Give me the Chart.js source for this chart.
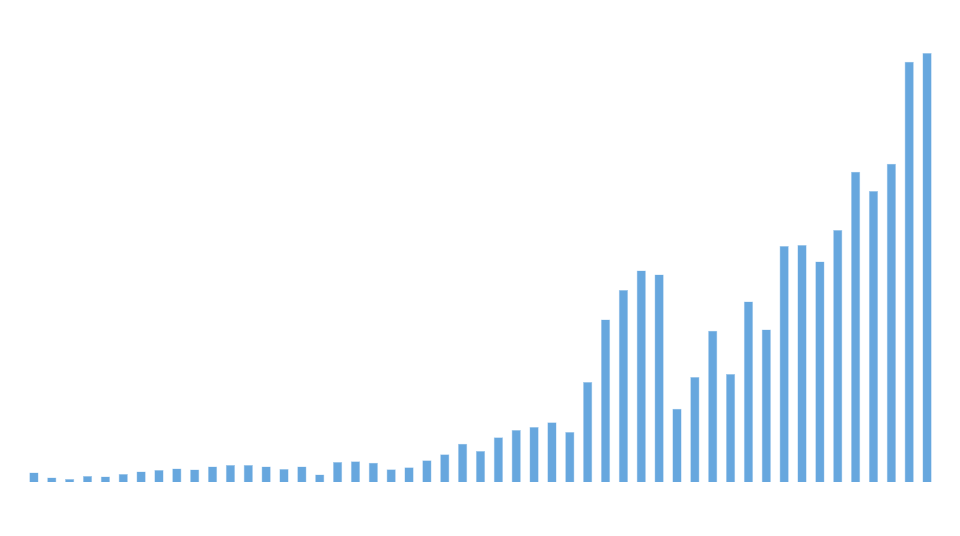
<!DOCTYPE html>
<html>
<head>
<meta charset="utf-8">
<script src="https://cdn.jsdelivr.net/npm/chart.js@4/dist/chart.umd.min.js"></script>
<style>
  html, body { margin: 0; padding: 0; background: #ffffff; }
  #wrap { width: 960px; height: 536px; position: relative; }
</style>
</head>
<body>
<div id="wrap"><canvas id="chart"></canvas></div>
<script>
// Categories (no labels shown in the original) and bar values
const categories = Array.from({ length: 51 }, (_, i) => String(i + 1));
const values = [
    9.5, 4.5, 3, 6, 5.5, 8, 10.5, 12, 13.5, 12.5,
    15.5, 17, 17, 15.5, 13, 15.5, 7.5, 20, 20.7, 19.3,
    12.7, 14.7, 21.7, 27.7, 38.3, 31, 44.7, 52, 55, 59.7,
    50, 100, 162.6, 192, 211.6, 207.6, 73.3, 105, 151.3, 108,
    180.6, 152.6, 236, 237, 220.6, 252, 310.3, 291, 318.3, 420.3,
    429
];
const yMax = 460;

document.addEventListener("DOMContentLoaded", () => {
    const ctx = document.getElementById('chart').getContext('2d');
    new Chart(ctx, {
        type: 'bar',
        data: {
            labels: categories,
            datasets: [{
                data: values,
                backgroundColor: '#67a7de',
                borderColor: '#a9cdee',
                borderWidth: 0.6,
                barPercentage: 0.52,
                categoryPercentage: 1.0
            }]
        },
        options: {
            responsive: true,
            maintainAspectRatio: false,
            animation: false,
            layout: {
                padding: { top: 22, bottom: 54, left: 25, right: 24 }
            },
            scales: {
                x: { display: false },
                y: { display: false, min: 0, max: yMax }
            },
            plugins: {
                legend: { display: false },
                tooltip: { enabled: false }
            }
        }
    });
});
</script>
</body>
</html>
